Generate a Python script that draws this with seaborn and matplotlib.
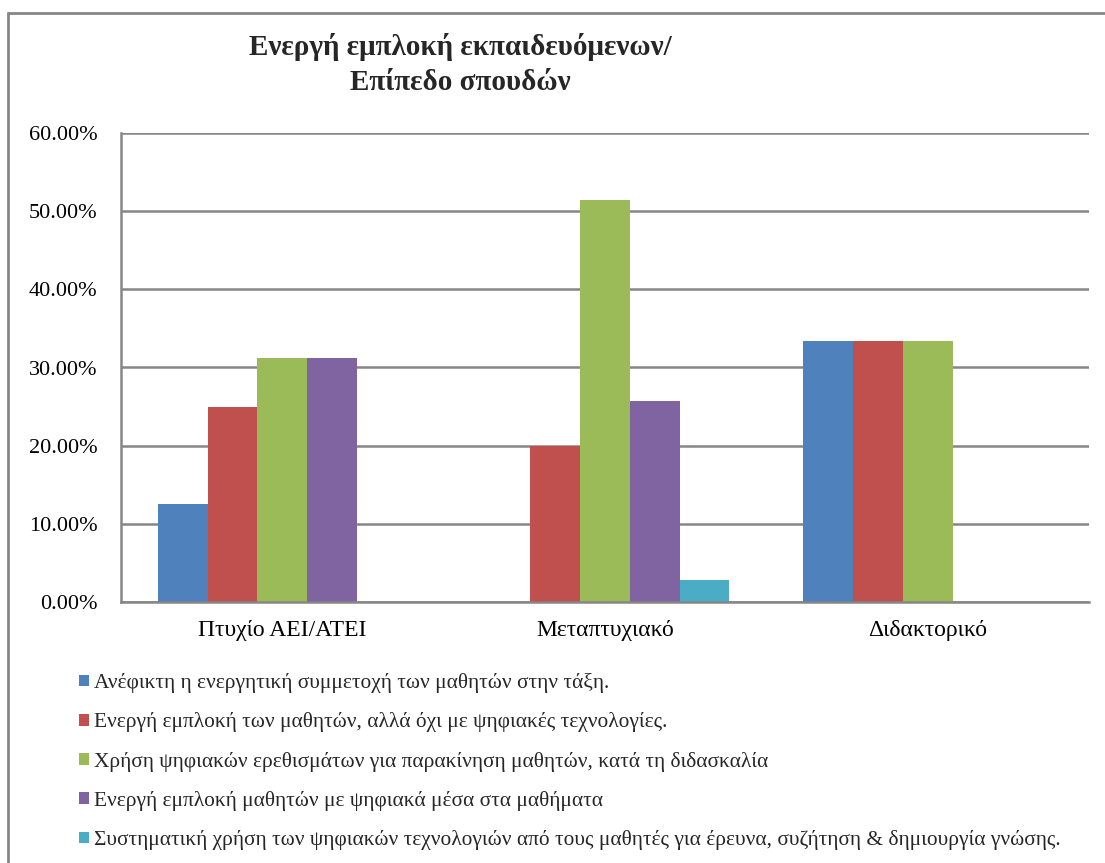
import matplotlib
matplotlib.use("Agg")
import matplotlib.pyplot as plt
from matplotlib.patches import Patch
from matplotlib.lines import Line2D
from matplotlib.ticker import FixedLocator, FuncFormatter
import seaborn as sns
import pandas as pd

# Survey shares per level of studies
levels = ["Πτυχίο ΑΕΙ/ΑΤΕΙ", "Μεταπτυχιακό", "Διδακτορικό"]
series_names = [
    "Ανέφικτη η ενεργητική συμμετοχή των μαθητών στην τάξη.",
    "Ενεργή εμπλοκή των μαθητών, αλλά όχι με ψηφιακές τεχνολογίες.",
    "Χρήση ψηφιακών ερεθισμάτων για παρακίνηση μαθητών, κατά τη διδασκαλία",
    "Ενεργή εμπλοκή μαθητών με ψηφιακά μέσα στα μαθήματα",
    "Συστηματική χρήση των ψηφιακών τεχνολογιών από τους μαθητές για έρευνα, συζήτηση & δημιουργία γνώσης.",
]
unreachable = [12.50, 0.00, 33.33]
active_no_digital = [25.00, 20.00, 33.33]
digital_stimuli = [31.25, 51.43, 33.33]
active_digital = [31.25, 25.71, 0.00]
systematic_use = [0.00, 2.86, 0.00]
palette = ["#4F81BD", "#C0504D", "#9BBB59", "#8064A2", "#4BACC6"]
title_lines = ["Ενεργή εμπλοκή εκπαιδευόμενων/", "Επίπεδο σπουδών"]

values = [unreachable, active_no_digital, digital_stimuli, active_digital, systematic_use]
rows = []
for name, vals in zip(series_names, values):
    for lvl, v in zip(levels, vals):
        rows.append({"level": lvl, "series": name, "share": v})
df = pd.DataFrame(rows)

sns.set_theme(style="white")
plt.rcParams["font.family"] = ["Liberation Serif", "DejaVu Serif"]

W, H = 1105, 863
fig = plt.figure(figsize=(W / 100, H / 100), dpi=100)
ax = fig.add_axes([121 / W, 1 - 602 / H, (1089 - 121) / W, (602 - 133) / H])

sns.barplot(data=df, x="level", y="share", hue="series", hue_order=series_names,
            order=levels, palette=palette, width=0.77, saturation=1,
            edgecolor="none", linewidth=0, ax=ax, legend=False)

grid_col = "#868686"
ax.set_xlim(-0.5, 2.5)
ax.set_ylim(0, 60)
ax.set_yticks([0, 10, 20, 30, 40, 50, 60])
ax.yaxis.set_major_formatter(FuncFormatter(lambda v, p: f"{v:.2f}%"))
ax.yaxis.grid(True, color=grid_col, linewidth=1.8)
ax.set_axisbelow(True)
ax.set_xlabel("")
ax.set_ylabel("")
for side in ["top", "right"]:
    ax.spines[side].set_visible(False)
for side in ["left", "bottom"]:
    ax.spines[side].set_color(grid_col)
    ax.spines[side].set_linewidth(1.8)

ax.xaxis.set_minor_locator(FixedLocator([-0.5, 0.5, 1.5, 2.5]))
ax.tick_params(axis="x", which="major", length=0, pad=13, labelsize=17, labelcolor="black")
ax.tick_params(axis="x", which="minor", length=7, width=1.8, color=grid_col, direction="out")
ax.tick_params(axis="y", which="major", length=7, width=1.8, color=grid_col, direction="out",
               pad=10, labelsize=16, labelcolor="black")

# two-line bold title
for line, base in zip(title_lines, [55, 90]):
    fig.text(460 / W, 1 - base / H, line, ha="center", va="baseline",
             fontsize=21, fontweight="bold")

handles = [Patch(facecolor=c, edgecolor="none") for c in palette]
fig.legend(handles, series_names, loc="upper left",
           bbox_to_anchor=(79 / W, 1 - 673 / H), frameon=False,
           fontsize=15.4, handlelength=0.47, handleheight=0.47, handletextpad=0.25,
           labelspacing=0.9, borderaxespad=0, borderpad=0)

# chart-area frame
fig.add_artist(Line2D([8 / W, 8 / W], [0, 1 - 13 / H], transform=fig.transFigure,
                      color=grid_col, linewidth=2))
fig.add_artist(Line2D([8 / W, 1], [1 - 13 / H, 1 - 13 / H], transform=fig.transFigure,
                      color=grid_col, linewidth=2))

fig.savefig("out.png", dpi=100, facecolor="white")
